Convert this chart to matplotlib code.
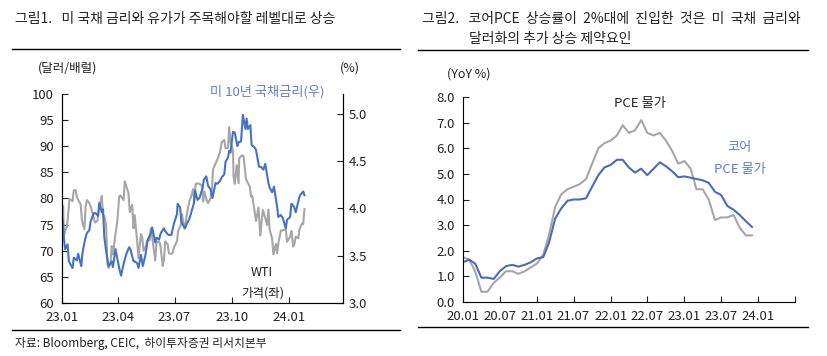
import matplotlib
matplotlib.use("Agg")
import matplotlib.pyplot as plt
import matplotlib.dates as mdates
from matplotlib.lines import Line2D
import pandas as pd

plt.rcParams["font.family"] = ["Noto Sans CJK KR", "DejaVu Sans"]

W, H = 827, 356
BLUE = "#4472C4"
BLUE_TXT = "#5B7FC7"
GRAY = "#A6A6A6"
TXT = "#222222"

# ---- left chart: WTI (left axis) & US 10Y (right axis) ----
wti_dates = [
    "2023-01-03", "2023-01-04", "2023-01-06", "2023-01-09", "2023-01-12", "2023-01-13",
    "2023-01-18", "2023-01-20", "2023-01-23", "2023-01-25", "2023-01-27", "2023-01-31",
    "2023-02-02", "2023-02-06", "2023-02-08", "2023-02-10", "2023-02-14", "2023-02-16",
    "2023-02-21", "2023-02-23", "2023-02-27", "2023-03-01", "2023-03-06", "2023-03-08",
    "2023-03-10", "2023-03-13", "2023-03-15", "2023-03-17", "2023-03-20", "2023-03-22",
    "2023-03-24", "2023-03-28", "2023-03-31", "2023-04-03", "2023-04-05", "2023-04-10",
    "2023-04-12", "2023-04-14", "2023-04-18", "2023-04-20", "2023-04-24", "2023-04-26",
    "2023-04-28", "2023-05-02", "2023-05-04", "2023-05-08", "2023-05-10", "2023-05-12",
    "2023-05-16", "2023-05-18", "2023-05-22", "2023-05-24", "2023-05-26", "2023-05-31",
    "2023-06-02", "2023-06-06", "2023-06-08", "2023-06-12", "2023-06-14", "2023-06-16",
    "2023-06-20", "2023-06-22", "2023-06-26", "2023-06-28", "2023-06-30", "2023-07-05",
    "2023-07-07", "2023-07-11", "2023-07-13", "2023-07-17", "2023-07-19", "2023-07-21",
    "2023-07-25", "2023-07-27", "2023-07-31", "2023-08-02", "2023-08-04", "2023-08-08",
    "2023-08-10", "2023-08-14", "2023-08-16", "2023-08-18", "2023-08-22", "2023-08-24",
    "2023-08-28", "2023-08-30", "2023-09-01", "2023-09-05", "2023-09-08", "2023-09-12",
    "2023-09-15", "2023-09-19", "2023-09-21", "2023-09-25", "2023-09-27", "2023-09-29",
    "2023-10-03", "2023-10-04", "2023-10-06", "2023-10-09", "2023-10-12", "2023-10-13",
    "2023-10-18", "2023-10-20", "2023-10-24", "2023-10-26", "2023-10-30", "2023-11-01",
    "2023-11-03", "2023-11-07", "2023-11-09", "2023-11-13", "2023-11-16", "2023-11-20",
    "2023-11-22", "2023-11-27", "2023-11-29", "2023-12-01", "2023-12-05", "2023-12-07",
    "2023-12-11", "2023-12-13", "2023-12-15", "2023-12-19", "2023-12-21", "2023-12-27",
    "2023-12-29", "2024-01-03", "2024-01-05", "2024-01-08", "2024-01-10", "2024-01-12",
    "2024-01-16", "2024-01-18", "2024-01-22", "2024-01-24", "2024-01-26",
]
wti_values = [
    78.5, 72.8, 73.8, 74.6, 78.4, 79.9,
    79.5, 81.6, 81.6, 80.2, 79.7, 78.9,
    75.9, 74.1, 78.5, 79.7, 79.1, 78.5,
    76.4, 75.4, 75.7, 77.7, 80.5, 76.7,
    76.7, 74.8, 67.6, 66.7, 67.6, 70.9,
    69.3, 73.2, 75.7, 80.4, 80.6, 79.7,
    83.3, 82.5, 81.0, 77.4, 78.8, 74.3,
    76.8, 71.7, 68.6, 73.2, 72.6, 70.0,
    70.9, 71.9, 72.0, 74.3, 72.7, 68.1,
    71.7, 71.7, 71.3, 67.1, 68.3, 71.8,
    71.2, 69.5, 69.4, 69.6, 70.6, 71.8,
    73.9, 74.8, 77.0, 74.2, 75.4, 77.1,
    79.6, 80.1, 81.8, 79.5, 82.8, 82.9,
    82.8, 82.5, 79.4, 81.3, 79.6, 79.1,
    80.1, 81.6, 85.6, 86.7, 87.5, 88.8,
    90.8, 91.2, 89.6, 89.7, 93.7, 90.8,
    89.2, 84.2, 82.8, 86.4, 82.9, 87.7,
    88.3, 88.1, 83.7, 83.2, 82.3, 80.4,
    80.5, 77.4, 75.7, 78.3, 72.9, 77.8,
    77.1, 74.9, 77.9, 74.1, 72.3, 69.3,
    71.3, 69.5, 71.4, 73.9, 73.9, 74.1,
    71.7, 72.7, 73.8, 70.8, 71.4, 72.7,
    72.4, 74.1, 75.2, 75.1, 78.0,
]

ust_dates = [
    "2023-01-02", "2023-01-04", "2023-01-06", "2023-01-10", "2023-01-12", "2023-01-18",
    "2023-01-20", "2023-01-25", "2023-01-27", "2023-02-01", "2023-02-03", "2023-02-07",
    "2023-02-10", "2023-02-14", "2023-02-16", "2023-02-21", "2023-02-24", "2023-02-28",
    "2023-03-02", "2023-03-06", "2023-03-08", "2023-03-10", "2023-03-13", "2023-03-15",
    "2023-03-17", "2023-03-22", "2023-03-24", "2023-03-28", "2023-03-31", "2023-04-04",
    "2023-04-06", "2023-04-10", "2023-04-14", "2023-04-19", "2023-04-21", "2023-04-26",
    "2023-04-28", "2023-05-02", "2023-05-04", "2023-05-08", "2023-05-11", "2023-05-15",
    "2023-05-19", "2023-05-24", "2023-05-26", "2023-05-31", "2023-06-02", "2023-06-06",
    "2023-06-09", "2023-06-14", "2023-06-16", "2023-06-21", "2023-06-26", "2023-06-30",
    "2023-07-05", "2023-07-06", "2023-07-10", "2023-07-12", "2023-07-14", "2023-07-18",
    "2023-07-21", "2023-07-25", "2023-07-28", "2023-08-01", "2023-08-03", "2023-08-07",
    "2023-08-10", "2023-08-15", "2023-08-17", "2023-08-21", "2023-08-24", "2023-08-28",
    "2023-08-31", "2023-09-05", "2023-09-08", "2023-09-12", "2023-09-15", "2023-09-19",
    "2023-09-21", "2023-09-25", "2023-09-27", "2023-09-29", "2023-10-03", "2023-10-06",
    "2023-10-10", "2023-10-12", "2023-10-16", "2023-10-19", "2023-10-23", "2023-10-25",
    "2023-10-27", "2023-10-31", "2023-11-02", "2023-11-06", "2023-11-09", "2023-11-14",
    "2023-11-17", "2023-11-21", "2023-11-24", "2023-11-29", "2023-12-01", "2023-12-05",
    "2023-12-08", "2023-12-13", "2023-12-15", "2023-12-19", "2023-12-22", "2023-12-27",
    "2023-12-29", "2024-01-03", "2024-01-05", "2024-01-09", "2024-01-12", "2024-01-17",
    "2024-01-19", "2024-01-24", "2024-01-26",
]
ust_values = [
    3.88, 3.69, 3.57, 3.62, 3.44, 3.37,
    3.48, 3.45, 3.52, 3.39, 3.53, 3.67,
    3.74, 3.77, 3.86, 3.95, 3.95, 3.92,
    4.06, 3.96, 3.99, 3.70, 3.55, 3.46,
    3.39, 3.44, 3.38, 3.57, 3.47, 3.34,
    3.29, 3.41, 3.51, 3.59, 3.57, 3.44,
    3.44, 3.42, 3.37, 3.51, 3.39, 3.50,
    3.67, 3.74, 3.80, 3.64, 3.69, 3.67,
    3.74, 3.79, 3.76, 3.72, 3.72, 3.84,
    3.94, 4.05, 4.01, 3.86, 3.83, 3.79,
    3.84, 3.89, 3.96, 4.05, 4.19, 4.09,
    4.11, 4.21, 4.30, 4.34, 4.24, 4.20,
    4.11, 4.27, 4.26, 4.29, 4.33, 4.36,
    4.49, 4.54, 4.61, 4.59, 4.81, 4.80,
    4.66, 4.70, 4.71, 4.99, 4.84, 4.95,
    4.84, 4.88, 4.67, 4.65, 4.62, 4.44,
    4.44, 4.41, 4.47, 4.27, 4.22, 4.17,
    4.23, 4.02, 3.91, 3.93, 3.90, 3.79,
    3.88, 3.91, 4.05, 4.02, 3.96, 4.10,
    4.14, 4.18, 4.14,
]
left_ticks = ["2023-01-01", "2023-04-01", "2023-07-01", "2023-10-01", "2024-01-01"]

# ---- right chart: PCE & core PCE, YoY %, monthly 2020.01 - 2023.12 ----
pce_months = pd.date_range("2020-01-01", "2023-12-01", freq="MS")
pce_values = [
    1.75, 1.65, 1.2, 0.4, 0.4, 0.75, 0.95, 1.2, 1.2, 1.1, 1.2, 1.35,
    1.5, 1.85, 2.6, 3.7, 4.2, 4.4, 4.5, 4.6, 4.8, 5.4, 6.0, 6.2,
    6.3, 6.5, 6.9, 6.6, 6.7, 7.1, 6.6, 6.5, 6.6, 6.3, 5.9, 5.4,
    5.5, 5.2, 4.4, 4.4, 4.0, 3.2, 3.3, 3.3, 3.4, 2.9, 2.6, 2.6,
]
core_values = [
    1.55, 1.65, 1.5, 0.95, 0.95, 0.9, 1.2, 1.4, 1.45, 1.38, 1.45, 1.55,
    1.7, 1.75, 2.3, 3.25, 3.65, 3.95, 4.0, 4.0, 4.05, 4.5, 4.95, 5.25,
    5.35, 5.55, 5.55, 5.25, 5.05, 5.2, 4.95, 5.2, 5.45, 5.3, 5.1, 4.87,
    4.9, 4.85, 4.8, 4.75, 4.65, 4.3, 4.18, 3.75, 3.6, 3.4, 3.15, 2.93,
]
right_ticks = pd.date_range("2020-01-01", "2024-07-01", freq="6MS")


def fx(px):
    return px / W


def fy(py):
    return 1 - py / H


def ftext(x, y, s, **kw):
    kw.setdefault("color", TXT)
    kw.setdefault("fontsize", 9)
    fig.text(fx(x), fy(y), s, **kw)


def hline(x0, x1, y, lw=1.0):
    fig.add_artist(Line2D([fx(x0), fx(x1)], [fy(y), fy(y)],
                          transform=fig.transFigure, color="black", linewidth=lw))


def style_ticks(ax, **kw):
    ax.tick_params(direction="in", length=4, width=0.8, labelsize=9.5,
                   colors=TXT, **kw)


fig = plt.figure(figsize=(W / 100, H / 100), dpi=100)

# titles, rules, source
ftext(15, 19, "그림1.   미 국채 금리와 유가가 주목해야할 레벨대로 상승", fontsize=10, va="center")
ftext(422, 19, "그림2.   코어PCE  상승률이  2%대에  진입한  것은  미  국채  금리와", fontsize=10, va="center")
ftext(469, 39, "달러화의 추가 상승 제약요인", fontsize=10, va="center")
hline(12, 400, 49)
hline(418, 808, 50)
hline(12, 400, 330)
hline(418, 808, 327)
ftext(15, 344, "자료: Bloomberg, CEIC,  하이투자증권 리서치본부", fontsize=8.5, va="center")

# ---- left chart ----
ax1 = fig.add_axes([fx(62), fy(303), fx(343 - 62), (303 - 94) / H])
ax1.plot(pd.to_datetime(wti_dates), wti_values, color=GRAY, linewidth=1.5)
ax1.set_ylim(60, 100)
ax1.set_yticks(range(60, 101, 5))
ax1.set_xlim(pd.Timestamp("2023-01-01"), pd.Timestamp("2024-03-28"))
ax1.set_xticks(pd.to_datetime(left_ticks))
ax1.xaxis.set_major_formatter(mdates.DateFormatter("%y.%m"))
ax1.spines["top"].set_visible(False)
style_ticks(ax1, pad=6)

ax2 = ax1.twinx()
ax2.plot(pd.to_datetime(ust_dates), ust_values, color=BLUE, linewidth=1.5)
ax2.set_ylim(3.0, 5.21)
ax2.set_yticks([3.0, 3.5, 4.0, 4.5, 5.0])
ax2.yaxis.set_major_formatter(matplotlib.ticker.FormatStrFormatter("%.1f"))
ax2.spines["top"].set_visible(False)
style_ticks(ax2, pad=4)

ftext(38, 68, "(달러/배럴)", va="center")
ftext(340, 68, "(%)", va="center")
ftext(210, 92, "미 10년 국채금리(우)", color=BLUE_TXT, fontsize=9.5, va="center")
ftext(262, 273, "WTI", ha="center", va="center")
ftext(263, 293, "가격(좌)", ha="center", va="center")

# ---- right chart ----
ax3 = fig.add_axes([fx(463), fy(302), fx(795 - 463), (302 - 97) / H])
ax3.plot(pce_months, pce_values, color=GRAY, linewidth=1.5)
ax3.plot(pce_months, core_values, color="#4A6BB8", linewidth=1.5)
ax3.set_ylim(0, 8)
ax3.set_yticks(range(0, 9))
ax3.yaxis.set_major_formatter(matplotlib.ticker.FormatStrFormatter("%.1f"))
ax3.set_xlim(pd.Timestamp("2020-01-01"), pd.Timestamp("2024-07-01"))
ax3.set_xticks(right_ticks)
ax3.set_xticklabels([d.strftime("%y.%m") for d in right_ticks[:-1]] + [""])
for side in ("top", "right"):
    ax3.spines[side].set_visible(False)
style_ticks(ax3, pad=6)

ftext(447, 74, "(YoY %)", va="center")
ftext(640, 103, "PCE 물가", ha="center", va="center", fontsize=9.5)
ftext(740, 148, "코어", ha="center", va="center", color=BLUE_TXT, fontsize=9.5)
ftext(740, 170, "PCE 물가", ha="center", va="center", color=BLUE_TXT, fontsize=9.5)

fig.savefig("out.png", dpi=100)
